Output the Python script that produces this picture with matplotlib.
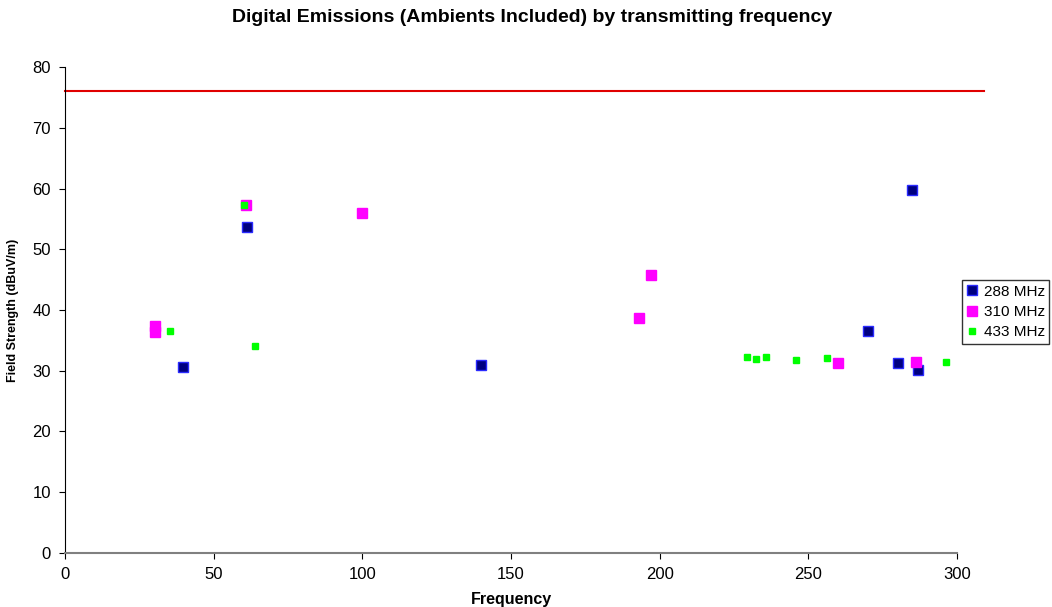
import numpy as np
import matplotlib
matplotlib.use("Agg")
import matplotlib.pyplot as plt

plt.rcParams['font.family'] = ['Liberation Sans', 'DejaVu Sans']

# 288 MHz series
freq288 = [39.7, 61.2, 139.9, 270.1, 280.2, 284.9, 286.9]
fs288 = [30.6, 53.7, 30.9, 36.5, 31.3, 59.8, 30.1]
# 310 MHz series
freq310 = [30.3, 30.3, 60.9, 99.9, 193.1, 197.1, 260.0, 286.2]
fs310 = [37.4, 36.4, 57.3, 56.0, 38.7, 45.8, 31.3, 31.4]
# 433 MHz series
freq433 = [35.3, 60.2, 63.9, 229.4, 232.4, 235.8, 245.9, 256.3, 296.3]
fs433 = [36.5, 57.3, 34.1, 32.3, 31.9, 32.3, 31.8, 32.1, 31.4]

limit = 76
xticks = [0, 50, 100, 150, 200, 250, 300]
yticks = [0, 10, 20, 30, 40, 50, 60, 70, 80]

fig = plt.figure(figsize=(10.52, 6.07), dpi=100)
ax = fig.add_axes([0.0618, 0.089, 0.8479, 0.8006])

ax.plot([0, 309], [limit, limit], color='#e00000', linewidth=1.5, clip_on=False)

ax.plot(freq288, fs288, 's', markersize=6.5, markerfacecolor='#000080',
        markeredgecolor='#2a2aff', markeredgewidth=1.0, label='288 MHz', clip_on=False)
ax.plot(freq310, fs310, 's', markersize=6.5, markerfacecolor='#ff00ff',
        markeredgecolor='#ff00ff', label='310 MHz', clip_on=False)
ax.plot(freq433, fs433, 's', markersize=4.5, markerfacecolor='#00ff00',
        markeredgecolor='#00ff00', label='433 MHz', clip_on=False)

ax.set_xlim(0, 300)
ax.set_ylim(0, 80)
ax.set_xticks(xticks)
ax.set_yticks(yticks)
ax.tick_params(axis='both', direction='out', length=4, labelsize=12, pad=6)
ax.spines['top'].set_visible(False)
ax.spines['right'].set_visible(False)
ax.spines['left'].set_color('black')
ax.spines['bottom'].set_color('#808080')
ax.spines['bottom'].set_linewidth(1.5)

ax.set_xlabel('Frequency', fontsize=11.5, fontweight='bold', labelpad=7)
ax.set_ylabel('Field Strength (dBuV/m)', fontsize=9, fontweight='bold', labelpad=10)
fig.suptitle('Digital Emissions (Ambients Included) by transmitting frequency',
             fontsize=14, fontweight='bold', x=0.506, y=0.985)

leg = ax.legend(loc='center left', bbox_to_anchor=(1.006, 0.496), fontsize=11,
                frameon=True, fancybox=False, handlelength=0.6, handletextpad=0.5,
                borderpad=0.3, labelspacing=0.4, borderaxespad=0)
leg.get_frame().set_edgecolor('black')
leg.get_frame().set_linewidth(1.0)

fig.savefig('out.png', dpi=100)
